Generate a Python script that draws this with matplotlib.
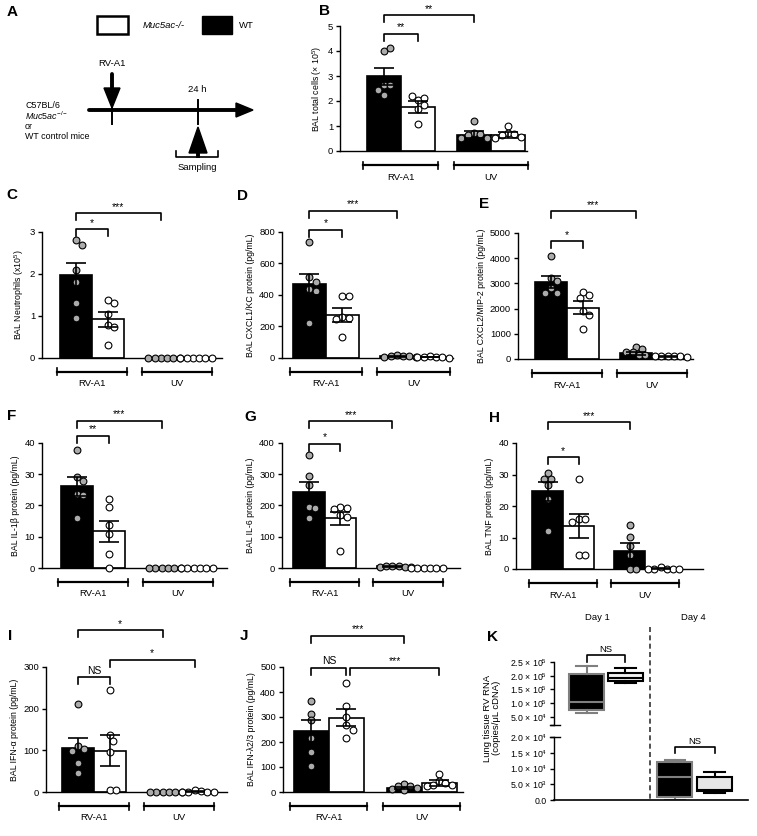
import numpy as np
import matplotlib
matplotlib.use('Agg')
import matplotlib.pyplot as plt
from matplotlib.patches import Rectangle, Polygon
from matplotlib.transforms import blended_transform_factory

plt.rcParams['font.family'] = ['Liberation Sans', 'DejaVu Sans']
plt.rcParams['mathtext.fontset'] = 'custom'
plt.rcParams['mathtext.rm'] = 'Liberation Sans'
plt.rcParams['mathtext.it'] = 'Liberation Sans:italic'
plt.rcParams['mathtext.bf'] = 'Liberation Sans:bold'

W, H = 757, 836

# ---- data (order: RV-A1 WT, RV-A1 Muc5ac-/-, UV WT, UV Muc5ac-/-) ----
groups = ['RV-A1', 'UV']

b_means = [2.99, 1.76, 0.66, 0.65]
b_sems = [0.34, 0.24, 0.13, 0.11]
b_pts = [[4.0, 4.12, 2.63, 2.63, 2.43, 2.23], [2.03, 2.12, 2.2, 1.83, 1.69, 1.09],
         [1.2, 0.72, 0.69, 0.63, 0.52, 0.52], [0.99, 0.72, 0.69, 0.65, 0.56, 0.52]]

c_means = [1.97, 0.92, 0, 0]
c_sems = [0.30, 0.18, 0, 0]
c_pts = [[2.82, 2.7, 2.1, 1.8, 1.3, 0.95], [1.37, 1.3, 1.05, 0.78, 0.73, 0.3],
         [0, 0, 0, 0, 0, 0], [0, 0, 0, 0, 0, 0]]

d_means = [468, 272, 10, 7]
d_sems = [68, 45, 3, 2]
d_pts = [[734, 515, 483, 440, 423, 223], [396, 396, 260, 255, 245, 136],
         [22, 12, 10, 10, 8, 8], [12, 6, 5, 5, 5, 3]]

e_means = [3050, 2040, 230, 100]
e_sems = [250, 270, 55, 10]
e_pts = [[4100, 3210, 3080, 2810, 2610, 2610], [2640, 2530, 2410, 1910, 1750, 1180],
         [480, 385, 265, 265, 160, 160], [110, 100, 100, 100, 100, 90]]

f_means = [26.1, 11.7, 0, 0]
f_sems = [3.0, 3.5, 0, 0]
f_pts = [[37.8, 29.0, 27.9, 23.7, 23.5, 16.0], [22.2, 19.5, 13.9, 11.0, 4.6, 0],
         [0, 0, 0, 0, 0, 0], [0, 0, 0, 0, 0, 0]]

g_means = [244, 159, 5, 0]
g_sems = [32, 21, 1, 0]
g_pts = [[361, 294, 265, 196, 193, 161], [196, 191, 188, 170, 164, 56],
         [6, 5, 5, 3, 3, 2], [0, 0, 0, 0, 0, 0]]

h_means = [24.7, 13.7, 5.8, 0.1]
h_sems = [3.0, 3.7, 2.5, 0.1]
h_pts = [[30.5, 28.7, 28.7, 26.6, 22.2, 12.1], [28.5, 15.8, 15.8, 15.0, 4.4, 4.4],
         [13.9, 10.2, 7.4, 4.6, 0, 0], [0.5, 0, 0, 0, 0, 0]]

i_means = [105, 99, 0, 1]
i_sems = [24, 37, 0, 0.5]
i_pts = [[212, 110, 104, 98, 70, 46], [244, 137, 123, 95, 6, 4],
         [0, 0, 0, 0, 0, 0], [4, 2, 0, 0, 0, 0]]

j_means = [244, 298, 16, 36]
j_sems = [44, 34, 3, 12]
j_pts = [[365, 312, 288, 217, 162, 106], [436, 345, 300, 270, 250, 215],
         [33, 23, 23, 16, 12, 9], [73, 46, 38, 29, 29, 25]]

# K: box plot stats (Day 1 WT, Day 1 Muc, Day 4 WT, Day 4 Muc)
k_days = ['Day 1', 'Day 4']
k_whislo = [6.3e4, 1.75e5, 0, 2300]
k_q1 = [7.6e4, 1.82e5, 800, 2900]
k_med = [1.03e5, 1.93e5, 7200, 3200]
k_q3 = [2.05e5, 2.11e5, 12000, 7400]
k_whishi = [2.37e5, 2.27e5, 12600, 8800]

pos = [0, 1, 2.65, 3.65]
fills = ['black', 'white', 'black', 'white']
pt_fills = ['#ababab', 'white', '#ababab', 'white']

fig = plt.figure(figsize=(W / 100, H / 100), dpi=100)
ax0 = fig.add_axes([0, 0, 1, 1])
ax0.set_xlim(0, W)
ax0.set_ylim(H, 0)
ax0.axis('off')


def px_rect(l, t, r, b):
    return [l / W, 1 - b / H, (r - l) / W, (b - t) / H]


def swarm(vals, xpx, ypx, d=7.0):
    steps = [0]
    for i in range(1, 30):
        steps += [i * d * 0.45, -i * d * 0.45]
    placed, out = [], []
    for v in vals:
        y = v * ypx
        for c in steps:
            if all((c - a) ** 2 + (y - b) ** 2 >= (0.85 * d) ** 2 for a, b in placed):
                break
        placed.append((c, y))
        out.append(c / xpx)
    return out


def bar_panel(rect, xlim, means, sems, pts, ymax, ystep, ylabel, brackets):
    l, t, r, b = rect
    ax = fig.add_axes(px_rect(l, t, r, b), facecolor='none')
    hpx = b - t
    xpx = (r - l) / (xlim[1] - xlim[0])
    ypx = hpx / ymax
    ax.bar(pos, means, width=1.0, color=fills, edgecolor='black', linewidth=1.2, zorder=1)
    for k in range(4):
        offs = swarm(pts[k], xpx, ypx)
        ax.scatter(np.array(offs) + pos[k], pts[k], s=24, c=pt_fills[k], edgecolors='black',
                   linewidths=0.8, zorder=3, clip_on=False)
    for k in range(4):
        if sems[k] > 0:
            ax.errorbar(pos[k], means[k], yerr=sems[k], fmt='none', ecolor='black',
                        elinewidth=1.2, capsize=7, capthick=1.2, zorder=4)
    ax.set_xlim(*xlim)
    ax.set_ylim(0, ymax)
    ax.set_yticks(np.arange(0, ymax + ystep / 2, ystep))
    ax.set_xticks([])
    for s in ['top', 'right']:
        ax.spines[s].set_visible(False)
    for s in ['left', 'bottom']:
        ax.spines[s].set_linewidth(1.0)
    ax.tick_params(axis='y', labelsize=6.8, length=3, width=1.0, pad=2)
    ax.set_ylabel(ylabel, fontsize=6.3, labelpad=3)
    leg = 7 / ypx
    for x1, x2, h, txt in brackets:
        ax.plot([x1, x1, x2, x2], [h - leg, h, h, h - leg], color='black', lw=1.2,
                clip_on=False, zorder=5)
        ax.text((x1 + x2) / 2, h + 1.5 / ypx, txt, ha='center', va='bottom', fontsize=7.5)
    tr = blended_transform_factory(ax.transData, ax.transAxes)
    yl = -14 / hpx
    yd = 3.5 / hpx
    for (x1, x2), name in zip([(-0.6, 1.6), (2.05, 4.25)], groups):
        ax.plot([x1, x2], [yl, yl], color='black', lw=1.6, transform=tr, clip_on=False)
        for x in (x1, x2):
            ax.plot([x, x], [yl - yd, yl + yd], color='black', lw=1.2, transform=tr, clip_on=False)
        ax.text((x1 + x2) / 2, -26 / hpx, name, ha='center', va='center', fontsize=6.8,
                transform=tr)
    return ax


bar_panel((340, 26, 527, 151), (-1.29, 4.21), b_means, b_sems, b_pts, 5, 1,
          'BAL total cells (× 10$^{5}$)', [(0, 1, 4.69, '**'), (0, 2.65, 5.43, '**')])
bar_panel((42, 232, 222, 358), (-1.06, 4.56), c_means, c_sems, c_pts, 3, 1,
          'BAL Neutrophils (x10$^{5}$)', [(0, 1, 3.06, '*'), (0, 2.65, 3.45, '***')])
bar_panel((282, 232, 453, 358), (-0.83, 4.35), d_means, d_sems, d_pts, 800, 200,
          'BAL CXCL1/KC protein (pg/mL)', [(0, 1, 815, '*'), (0, 2.65, 933, '***')])
bar_panel((518, 233, 693, 359), (-1.03, 4.44), e_means, e_sems, e_pts, 5000, 1000,
          'BAL CXCL2/MIP-2 protein (pg/mL)', [(0, 1, 4668, '*'), (0, 2.65, 5862, '***')])
bar_panel((42, 443, 227, 568), (-1.09, 4.69), f_means, f_sems, f_pts, 40, 10,
          'BAL IL-1β protein (pg/mL)', [(0, 1, 42.3, '**'), (0, 2.65, 47.1, '***')])
bar_panel((282, 443, 460, 568), (-0.85, 4.80), g_means, g_sems, g_pts, 400, 100,
          'BAL IL-6 protein (pg/mL)', [(0, 1, 398, '*'), (0, 2.65, 470, '***')])
bar_panel((516, 443, 703, 569), (-1.02, 5.02), h_means, h_sems, h_pts, 40, 10,
          'BAL TNF protein (pg/mL)', [(0, 1, 35.4, '*'), (0, 2.65, 46.6, '***')])
bar_panel((46, 667, 227, 792), (-1.0, 4.66), i_means, i_sems, i_pts, 300, 100,
          'BAL IFN-α protein (pg/mL)',
          [(0, 1, 275, 'NS'), (1, 3.65, 318, '*'), (0, 2.65, 388, '*')])
bar_panel((283, 667, 463, 792), (-0.81, 4.33), j_means, j_sems, j_pts, 500, 100,
          'BAL IFN-λ2/3 protein (pg/mL)',
          [(0, 1, 496, 'NS'), (1.1, 3.65, 496, '***'), (0, 2.65, 626, '***')])


# ---- K: broken-axis box plot ----
def sci(v):
    if v == 0:
        return '0.0'
    e = int(np.floor(np.log10(v)))
    return f'{v / 10 ** e:.1f} × 10$^{{{e}}}$'


k_pos = [0.88, 1.93, 3.26, 4.34]
k_face = ['black', '#f2f2f2', 'black', '#e6e6e6']
k_edge = ['#7f7f7f', 'black', '#7f7f7f', 'black']
stats = [dict(whislo=a, q1=b, med=c, q3=d, whishi=e)
         for a, b, c, d, e in zip(k_whislo, k_q1, k_med, k_q3, k_whishi)]

axu = fig.add_axes(px_rect(554, 662, 748, 725), facecolor='none')
axl = fig.add_axes(px_rect(554, 737, 748, 800), facecolor='none')
for ax in (axu, axl):
    res = ax.bxp(stats, positions=k_pos, widths=0.95, showfliers=False, patch_artist=True,
                 capwidths=0.55)
    for n in range(4):
        res['boxes'][n].set(facecolor=k_face[n], edgecolor=k_edge[n], linewidth=1.5)
        res['medians'][n].set(color=k_edge[n], linewidth=1.5)
        for art in res['whiskers'][2 * n:2 * n + 2] + res['caps'][2 * n:2 * n + 2]:
            art.set(color=k_edge[n], linewidth=1.5)
    ax.set_xlim(0, 5.24)
    ax.set_xticks([])
    for s in ['top', 'right']:
        ax.spines[s].set_visible(False)
    ax.spines['left'].set_linewidth(1.0)
    ax.tick_params(axis='y', labelsize=6.3, length=3, width=1.0, pad=2)

axu.spines['bottom'].set_visible(False)
axu.set_ylim(2e4, 2.5e5)
ut = [2e4, 5e4, 1e5, 1.5e5, 2e5, 2.5e5]
axu.set_yticks(ut)
axu.set_yticklabels([''] + [sci(v) for v in ut[1:]])
axl.set_ylim(0, 2e4)
lt = [0, 5e3, 1e4, 1.5e4, 2e4]
axl.set_yticks(lt)
axl.set_yticklabels([sci(v) for v in lt])
axl.spines['bottom'].set_linewidth(1.2)
axl.plot([-0.02, 0.03], [1, 1], transform=axl.transAxes, color='black', lw=1.0, clip_on=False)
axu.plot([-0.02, 0.03], [0, 0], transform=axu.transAxes, color='black', lw=1.0, clip_on=False)

for ax, x1, x2, h, leg in [(axu, 0.88, 1.93, 2.74e5, 2.5e4), (axl, 3.26, 4.34, 16900, 2000)]:
    ax.plot([x1, x1, x2, x2], [h - leg, h, h, h - leg], color='black', lw=1.2, clip_on=False)
    ax.text((x1 + x2) / 2, h + leg * 0.15, 'NS', ha='center', va='bottom', fontsize=6.8)

ax0.plot([650, 650], [627, 800], color='#333333', lw=1.2, ls=(0, (3, 2)))
ax0.text(597, 618, k_days[0], ha='center', va='center', fontsize=6.8)
ax0.text(693, 618, k_days[1], ha='center', va='center', fontsize=6.8)
ax0.text(492, 718, 'Lung tissue RV RNA\n(copies/μL cDNA)', ha='center', va='center',
         rotation=90, fontsize=6.8, linespacing=1.1)

# ---- A: schematic ----
ax0.add_patch(Rectangle((97, 16), 31, 18, facecolor='white', edgecolor='black', lw=1.8))
ax0.add_patch(Rectangle((202, 16), 30, 18, facecolor='black', edgecolor='black', lw=1.0))
ax0.text(143, 26, 'Muc5ac-/-', style='italic', ha='left', va='center', fontsize=6.8)
ax0.text(239, 26, 'WT', ha='left', va='center', fontsize=6.8)

ax0.plot([89, 240], [110, 110], color='black', lw=2.8, solid_capstyle='round')
ax0.add_patch(Polygon([(236, 103), (253, 110), (236, 117)], closed=True, color='black'))
ax0.plot([112, 112], [100, 124], color='black', lw=1.4)
ax0.plot([198, 198], [100, 124], color='black', lw=1.4)
ax0.plot([112, 112], [74, 90], color='black', lw=2.8, solid_capstyle='round')
ax0.add_patch(Polygon([(104, 88), (120, 88), (112, 108)], closed=True, color='black'))
ax0.plot([198, 198], [150, 156], color='black', lw=2.8)
ax0.add_patch(Polygon([(189, 153), (207, 153), (198, 127)], closed=True, color='black'))
ax0.plot([176, 176, 218, 218], [151, 157, 157, 151], color='black', lw=1.2)
ax0.text(112, 63, 'RV-A1', ha='center', va='center', fontsize=6.8)
ax0.text(197, 89, '24 h', ha='center', va='center', fontsize=6.8)
ax0.text(197, 168, 'Sampling', ha='center', va='center', fontsize=6.8)
left_lines = ['C57BL/6', r'$\mathit{Muc5ac}^{-/-}$', 'or', 'WT control mice']
for n, s in enumerate(left_lines):
    ax0.text(25, 106 + 10.3 * n, s, ha='left', va='center', fontsize=6.4)

# ---- panel letters ----
letters = {'A': (12, 12), 'B': (325, 11), 'C': (12, 195), 'D': (242, 196), 'E': (484, 204),
           'F': (12, 416), 'G': (250, 417), 'H': (495, 418), 'I': (10, 636), 'J': (244, 636),
           'K': (492, 637)}
for k, (x, y) in letters.items():
    ax0.text(x, y, k, ha='center', va='center', fontsize=11, fontweight='bold')

fig.savefig('out.png', dpi=100)
